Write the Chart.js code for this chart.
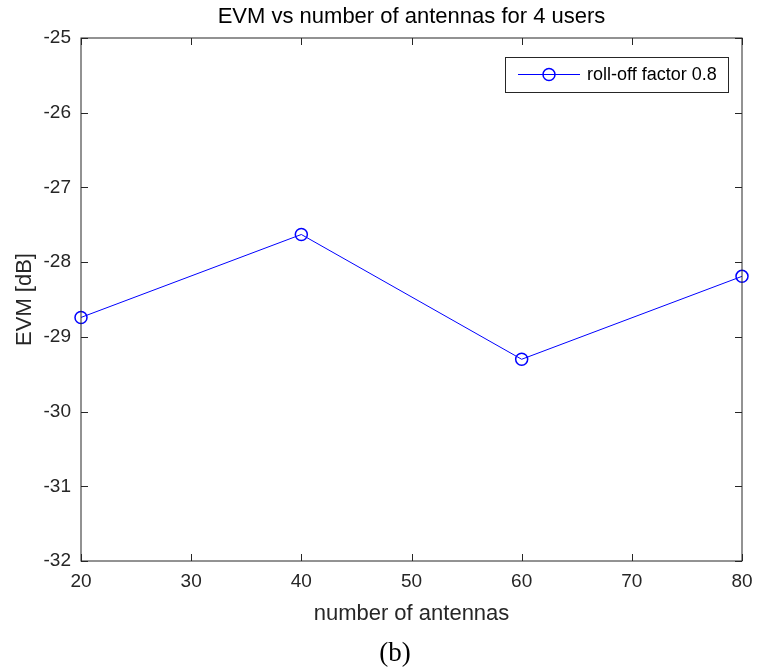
<!DOCTYPE html>
<html>
<head>
<meta charset="utf-8">
<script src="https://cdn.jsdelivr.net/npm/chart.js@4"></script>
<style>
  body{margin:0;background:#fff;}
  #wrap{width:757px;height:670px;position:relative;}
</style>
</head>
<body>
<div id="wrap"><canvas id="mychart" width="757" height="670"></canvas></div>
<script>
// data
var antennas = [20, 40, 60, 80];                    // number of antennas
var evmRolloff08 = [-28.74, -27.63, -29.30, -28.19];  // EVM [dB], roll-off 0.8
var seriesLabel = 'roll-off factor 0.8';
var chartTitle = 'EVM vs number of antennas for 4 users';
var xLabel = 'number of antennas';
var yLabel = 'EVM [dB]';
var captionText = '(b)';

var FONT = '"Liberation Sans", Arial, sans-serif';
var AXC = '#262626';

// matlab-ish box, inward ticks, title, legend box and caption
var matlabBox = {
  id: 'matlabBox',
  afterDraw: function(chart){
    var c = chart.ctx, a = chart.chartArea;
    var xs = chart.scales.x, ys = chart.scales.y;
    c.save();
    c.strokeStyle = AXC;
    c.lineWidth = 1;
    c.strokeRect(Math.round(a.left), Math.round(a.top), Math.round(a.right-a.left), Math.round(a.bottom-a.top));
    var tl = 7;
    c.beginPath();
    xs.ticks.forEach(function(t){
      var px = Math.round(xs.getPixelForValue(t.value))+0.5;
      c.moveTo(px, a.bottom); c.lineTo(px, a.bottom-tl);
      c.moveTo(px, a.top); c.lineTo(px, a.top+tl);
    });
    ys.ticks.forEach(function(t){
      var py = Math.round(ys.getPixelForValue(t.value))+0.5;
      c.moveTo(a.left, py); c.lineTo(a.left+tl, py);
      c.moveTo(a.right, py); c.lineTo(a.right-tl, py);
    });
    c.stroke();

    // title
    c.fillStyle = '#000';
    c.font = '22px ' + FONT;
    c.textAlign = 'center'; c.textBaseline = 'middle';
    c.fillText(chartTitle, (a.left+a.right)/2, 17);

    // legend
    var lw = 223, lh = 35;
    var lx = a.right - 14 - lw, ly = a.top + 19;
    c.fillStyle = '#fff';
    c.fillRect(lx, ly, lw, lh);
    c.strokeStyle = AXC;
    c.lineWidth = 1;
    c.strokeRect(Math.round(lx)+0.5, Math.round(ly)+0.5, lw, lh);
    var my = ly + lh/2;
    c.strokeStyle = '#0000ff';
    c.beginPath(); c.moveTo(lx+13, my); c.lineTo(lx+75, my); c.stroke();
    c.lineWidth = 1.5;
    c.beginPath(); c.arc(lx+44, my, 6, 0, Math.PI*2); c.stroke();
    c.fillStyle = '#000';
    c.font = '18px ' + FONT;
    c.textAlign = 'left';
    c.fillText(seriesLabel, lx+82, my+1);

    // caption
    c.font = '27px "Liberation Serif", "Times New Roman", serif';
    c.textAlign = 'center';
    c.fillText(captionText, 395, 654);
    c.restore();
  }
};

var ctx = document.getElementById('mychart');
var chart = new Chart(ctx, {
  type: 'line',
  data: {
    datasets: [{
      label: seriesLabel,
      data: antennas.map(function(v, i){ return {x: v, y: evmRolloff08[i]}; }),
      borderColor: '#0000ff',
      borderWidth: 1,
      pointStyle: 'circle',
      pointRadius: 6,
      pointBorderWidth: 1.5,
      pointBackgroundColor: 'rgba(0,0,0,0)',
      pointBorderColor: '#0000ff',
      tension: 0,
      clip: false
    }]
  },
  options: {
    responsive: false,
    animation: false,
    layout: {padding: {top: 38, right: 15, left: 0, bottom: 0}},
    plugins: {legend: {display: false}, title: {display: false}, tooltip: {enabled: false}},
    scales: {
      x: {
        type: 'linear', min: 20, max: 80,
        ticks: {stepSize: 10, color: AXC, font: {family: FONT, size: 19}, padding: 1, maxRotation: 0},
        grid: {display: false},
        border: {display: false},
        title: {display: true, text: xLabel, color: AXC, font: {family: FONT, size: 22}, padding: {bottom: 43}},
        afterFit: function(s){ s.height = 109; }
      },
      y: {
        min: -32, max: -25,
        ticks: {stepSize: 1, color: AXC, font: {family: FONT, size: 19}, padding: 2},
        grid: {display: false},
        border: {display: false},
        title: {display: true, text: yLabel, color: AXC, font: {family: FONT, size: 22}, padding: {top: 12}},
        afterFit: function(s){ s.width = 81; }
      }
    }
  },
  plugins: [matlabBox]
});
</script>
</body>
</html>
